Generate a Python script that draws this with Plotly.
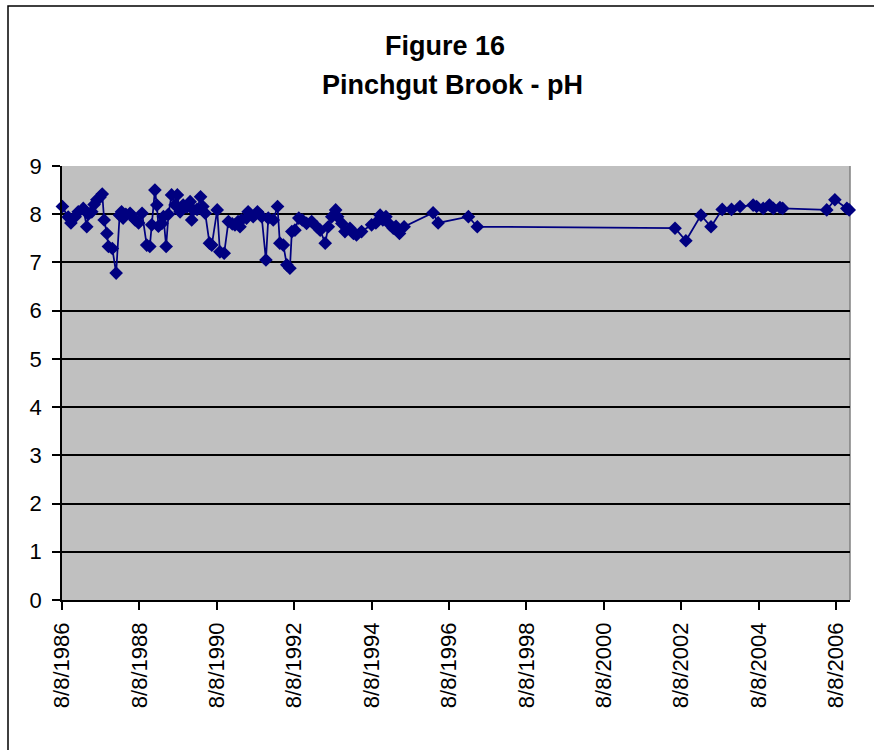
import pandas as pd
import plotly.graph_objects as go

# Sample dates as decimal years, pH values
decimal_years = [
    1986.61, 1986.76, 1986.83, 1986.94, 1987.02, 1987.15, 1987.24, 1987.28, 1987.37, 1987.43,
    1987.50, 1987.58, 1987.64, 1987.69, 1987.76, 1987.80, 1987.90, 1988.00, 1988.09, 1988.14,
    1988.18, 1988.25, 1988.36, 1988.42, 1988.49, 1988.58, 1988.67, 1988.79, 1988.87, 1988.92,
    1989.00, 1989.05, 1989.09, 1989.18, 1989.22, 1989.29, 1989.35, 1989.43, 1989.52, 1989.58,
    1989.65, 1989.73, 1989.83, 1989.91, 1989.95, 1989.99, 1990.09, 1990.18, 1990.24, 1990.30,
    1990.41, 1990.47, 1990.61, 1990.68, 1990.79, 1990.90, 1991.00, 1991.07, 1991.15, 1991.20,
    1991.24, 1991.37, 1991.41, 1991.54, 1991.65, 1991.76, 1991.87, 1991.93, 1992.06, 1992.17,
    1992.23, 1992.32, 1992.41, 1992.49, 1992.54, 1992.62, 1992.72, 1992.81, 1992.92, 1993.05,
    1993.18, 1993.27, 1993.40, 1993.48, 1993.57, 1993.67, 1993.72, 1993.83, 1993.91, 1994.04,
    1994.13, 1994.21, 1994.34, 1994.60, 1994.71, 1994.82, 1994.89, 1994.97, 1995.08, 1995.16,
    1995.23, 1995.32, 1995.44, 1996.19, 1996.32, 1997.10, 1997.33, 2002.44, 2002.72, 2003.11,
    2003.37, 2003.66, 2003.90, 2004.12, 2004.46, 2004.55, 2004.72, 2004.88, 2004.98, 2005.15,
    2005.22, 2006.36, 2006.57, 2006.88, 2006.94,
]
ph_values = [
    8.16, 7.94, 7.82, 7.95, 8.05, 8.12, 7.74, 8.00, 8.05, 8.20,
    8.30, 8.35, 8.42, 7.88, 7.60, 7.33, 7.29, 6.78, 7.98, 8.05,
    7.92, 8.00, 8.02, 7.95, 7.88, 7.82, 8.02, 7.36, 7.33, 7.78,
    8.50, 8.19, 7.75, 7.81, 7.95, 7.33, 8.00, 8.40, 8.19, 8.40,
    8.05, 8.19, 8.15, 8.26, 7.88, 8.09, 8.10, 8.36, 8.16, 8.02,
    7.40, 7.36, 8.09, 7.22, 7.19, 7.85, 7.80, 7.78, 7.85, 7.74,
    7.88, 7.92, 8.05, 7.95, 8.05, 7.95, 7.05, 7.92, 7.88, 8.16,
    7.40, 7.36, 6.95, 6.88, 7.64, 7.67, 7.92, 7.88, 7.81, 7.85,
    7.74, 7.67, 7.40, 7.74, 7.95, 8.09, 7.95, 7.81, 7.64, 7.71,
    7.60, 7.57, 7.64, 7.78, 7.82, 7.98, 7.88, 7.95, 7.78, 7.71,
    7.75, 7.60, 7.74, 8.03, 7.82, 7.95, 7.74, 7.71, 7.45, 7.98,
    7.74, 8.10, 8.10, 8.16, 8.19, 8.16, 8.12, 8.19, 8.12, 8.14,
    8.12, 8.09, 8.30, 8.12, 8.09,
]

tick_dates = ["1986-08-08", "1988-08-08", "1990-08-08", "1992-08-08", "1994-08-08",
              "1996-08-08", "1998-08-08", "2000-08-08", "2002-08-08", "2004-08-08",
              "2006-08-08"]
tick_labels = ["8/8/1986", "8/8/1988", "8/8/1990", "8/8/1992", "8/8/1994",
               "8/8/1996", "8/8/1998", "8/8/2000", "8/8/2002", "8/8/2004",
               "8/8/2006"]
y_ticks = list(range(0, 10))


def to_date(y):
    base = int(y)
    return pd.Timestamp(f"{base}-01-01") + pd.Timedelta(days=(y - base) * 365.25)


dates = [to_date(v) for v in decimal_years]

NAVY = "#000080"
FONT = "Liberation Sans, Arial, sans-serif"

fig = go.Figure()
fig.add_trace(go.Scatter(
    x=dates, y=ph_values, mode="lines+markers",
    line=dict(color=NAVY, width=1.75),
    marker=dict(symbol="diamond", size=10.5, color=NAVY),
    showlegend=False, hoverinfo="x+y", cliponaxis=False,
))

fig.update_layout(
    width=874, height=750,
    margin=dict(l=62, r=24, t=166, b=150),
    paper_bgcolor="white",
    plot_bgcolor="#C0C0C0",
    font=dict(family=FONT, color="black"),
    xaxis=dict(
        type="date",
        range=["1986-08-08", "2006-12-18"],
        tickvals=tick_dates, ticktext=tick_labels,
        tickangle=-90,
        tickfont=dict(size=22, family=FONT, color="black"),
        ticks="outside", ticklen=8, tickwidth=1.5, tickcolor="black",
        showline=True, linecolor="black", linewidth=1.5,
        showgrid=False, zeroline=False,
        ticklabelstandoff=4,
    ),
    yaxis=dict(
        range=[0, 9], tickvals=y_ticks,
        tickfont=dict(size=22, family=FONT, color="black"),
        ticks="outside", ticklen=8, tickwidth=1.5, tickcolor="black",
        showline=True, linecolor="black", linewidth=1.5,
        showgrid=True, gridcolor="black", gridwidth=1.5,
        zeroline=False,
        ticklabelstandoff=6,
    ),
    shapes=[
        # outer chart frame (extends past the window on right/bottom)
        dict(type="rect", xref="paper", yref="paper",
             x0=(8 - 62) / 788, x1=1.2, y0=-0.6, y1=(600 - 6) / 434,
             line=dict(color="black", width=1.5), fillcolor="rgba(0,0,0,0)",
             layer="below"),
        # plot area right border (gray)
        dict(type="line", xref="paper", yref="paper", x0=1, x1=1, y0=0, y1=1,
             line=dict(color="#808080", width=1.5), layer="below"),
    ],
    annotations=[
        dict(text="<b>Figure 16</b>", xref="paper", yref="paper",
             x=(445 - 62) / 788, y=(600 - 46) / 434, xanchor="center", yanchor="middle",
             showarrow=False, font=dict(size=27, family=FONT, color="black")),
        dict(text="<b>Pinchgut Brook - pH</b>", xref="paper", yref="paper",
             x=(452 - 62) / 788, y=(600 - 85) / 434, xanchor="center", yanchor="middle",
             showarrow=False, font=dict(size=27, family=FONT, color="black")),
    ],
)

fig.write_html("out.html")
